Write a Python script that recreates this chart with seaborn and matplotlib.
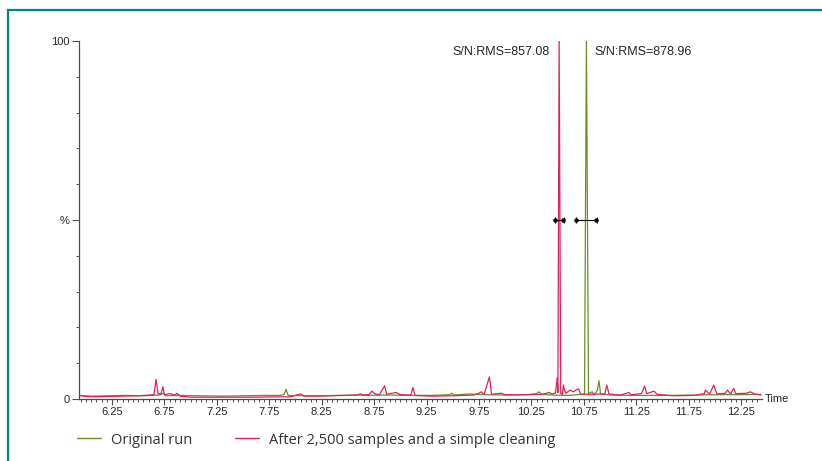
"""
Chromatogram overlay: original run vs. after 2,500 samples and a simple cleaning.
"""
import numpy as np
import pandas as pd
import matplotlib
matplotlib.use("Agg")
import matplotlib.pyplot as plt
from matplotlib.lines import Line2D
import seaborn as sns

# Original run (retention time in minutes, relative intensity in %)
orig_time = [5.94, 6.05, 6.2, 6.4, 6.55, 6.7, 6.74, 6.76, 6.9, 7.1, 7.3, 7.5,
             7.7, 7.85, 7.89, 7.91, 7.93, 8.1, 8.3, 8.5, 8.6, 8.62, 8.64, 8.9,
             9.1, 9.3, 9.47, 9.49, 9.51, 9.65, 9.8, 10.0, 10.2, 10.3, 10.32,
             10.35, 10.45, 10.6, 10.7, 10.757, 10.775, 10.795, 10.83, 10.85,
             10.88, 10.895, 10.91, 11.0, 11.2, 11.5, 11.8, 12.0, 12.2, 12.44]
orig_pct = [1.0, 0.8, 0.9, 1.0, 0.9, 1.1, 1.6, 0.9, 1.0, 0.9, 0.8, 0.9,
            1.0, 1.0, 1.2, 2.7, 1.0, 0.9, 0.9, 1.0, 1.2, 1.5, 1.0, 1.1,
            1.0, 1.0, 1.2, 1.6, 1.1, 1.4, 1.2, 1.1, 1.2, 1.5, 2.0,
            1.3, 1.1, 1.0, 1.2, 1.3, 100.0, 1.5, 2.0, 1.2,
            2.5, 5.1, 1.5, 1.1, 1.0, 1.0, 1.1, 1.2, 1.2, 1.3]

# After 2,500 samples and a simple cleaning
clean_time = [5.94, 6.0, 6.1, 6.2, 6.35, 6.5, 6.6, 6.65, 6.67, 6.69, 6.72, 6.735,
              6.75, 6.8, 6.85, 6.87, 6.9, 7.0, 7.2, 7.4, 7.6, 7.8, 7.95, 8.0,
              8.05, 8.08, 8.2, 8.4, 8.6, 8.7, 8.73, 8.76, 8.8, 8.85, 8.87, 8.92,
              8.96, 9.0, 9.1, 9.12, 9.14, 9.3, 9.5, 9.7, 9.75, 9.77, 9.8, 9.85,
              9.87, 9.96, 10.0, 10.2, 10.35, 10.42, 10.45, 10.48, 10.497, 10.503,
              10.515, 10.53, 10.545, 10.557, 10.565, 10.58, 10.62, 10.65, 10.68,
              10.7, 10.72, 10.8, 10.9, 10.95, 10.97, 10.99, 11.1, 11.18, 11.2,
              11.3, 11.33, 11.35, 11.42, 11.45, 11.6, 11.8, 11.9, 11.91, 11.95,
              11.99, 12.02, 12.1, 12.12, 12.15, 12.18, 12.2, 12.3, 12.34, 12.38,
              12.44]
clean_pct = [1.0, 0.7, 0.6, 0.7, 0.8, 0.9, 1.1, 1.2, 5.5, 1.4, 1.6, 3.4,
             1.2, 1.5, 1.1, 1.6, 0.8, 0.5, 0.5, 0.5, 0.5, 0.6, 0.6, 1.0,
             1.4, 0.8, 0.8, 1.0, 1.1, 1.2, 2.2, 1.4, 1.2, 3.7, 1.3, 1.6,
             1.8, 1.2, 1.1, 3.2, 1.0, 0.8, 0.9, 1.1, 1.6, 2.0, 1.3, 6.2,
             1.3, 1.6, 1.2, 1.2, 1.3, 1.8, 1.4, 1.7, 6.0, 1.8,
             100.0, 1.6, 1.2, 3.9, 2.5, 1.6, 2.5, 2.0, 2.6,
             2.8, 1.4, 1.3, 1.4, 1.3, 3.9, 1.4, 1.1, 1.8, 1.2,
             1.5, 3.6, 1.5, 2.2, 1.3, 0.9, 1.0, 1.5, 2.5, 1.4,
             3.9, 1.4, 1.6, 2.5, 1.4, 3.0, 1.5, 1.6, 2.0, 1.4,
             1.1]

series_names = ["Original run", "After 2,500 samples and a simple cleaning"]
series_colors = ["#6b8e2a", "#e0215a"]

# Peak annotations
sn_labels = ["S/N:RMS=857.08", "S/N:RMS=878.96"]
peak_center = [10.515, 10.7725]
peak_halfwidth = [0.043, 0.100]

x_labels = [6.25, 6.75, 7.25, 7.75, 8.25, 8.75, 9.25, 9.75,
            10.25, 10.75, 11.25, 11.75, 12.25]

df = pd.concat([
    pd.DataFrame({"Time": orig_time, "pct": orig_pct, "run": series_names[0]}),
    pd.DataFrame({"Time": clean_time, "pct": clean_pct, "run": series_names[1]}),
])

sns.set_style("white")
plt.rcParams["font.family"] = ["Liberation Sans", "DejaVu Sans"]

fig = plt.figure(figsize=(8.22, 4.61), dpi=100)
ax = fig.add_axes([79 / 822, 1 - 399 / 461, (762 - 79) / 822, (399 - 41) / 461])

sns.lineplot(data=df, x="Time", y="pct", hue="run", palette=series_colors,
             hue_order=series_names, estimator=None, sort=False,
             linewidth=0.9, legend=False, ax=ax)

ax.set_xlim(5.935, 12.45)
ax.set_ylim(0, 100)

# peak width markers at half height
for c, hw in zip(peak_center, peak_halfwidth):
    ax.errorbar(c, 50, xerr=hw, fmt="none", ecolor="black", elinewidth=0.8,
                capsize=2.5, capthick=0.8)
    ax.plot([c - hw + 0.008, c + hw - 0.008], [50, 50], ls="none",
            marker="o", ms=2.2, color="black")

# S/N labels beside the peaks
ax.text(10.424, 96.9, sn_labels[0], ha="right", va="center", fontsize=9)
ax.text(10.854, 96.9, sn_labels[1], ha="left", va="center", fontsize=9)

# axes styling
for side in ["top", "right"]:
    ax.spines[side].set_visible(False)
for side in ["left", "bottom"]:
    ax.spines[side].set_color("#4d4d4d")
    ax.spines[side].set_linewidth(0.9)

ax.set_yticks([0, 50, 100])
ax.set_yticklabels(["0", "%", "100"], fontsize=8)
ax.set_yticks(np.arange(0, 101, 10), minor=True)
ax.set_xticks(x_labels)
ax.set_xticklabels([f"{v:.2f}" for v in x_labels], fontsize=8)
ax.set_xticks(np.arange(5.95, 12.45, 0.05), minor=True)
ax.tick_params(axis="both", which="both", bottom=True, left=True,
               direction="out", color="#4d4d4d")
ax.tick_params(axis="both", which="major", length=4, width=0.8, pad=2)
ax.tick_params(axis="both", which="minor", length=2.5, width=0.7)
ax.tick_params(axis="y", which="major", length=5)
ax.set_xlabel("")
ax.set_ylabel("")
ax.text(1.004, 0, "Time", transform=ax.transAxes, ha="left", va="center",
        fontsize=8)

# legend below the plot
handles = [Line2D([], [], color=col, lw=1.0) for col in series_colors]
fig.legend(handles, series_names, loc="center left",
           bbox_to_anchor=(77 / 822, 1 - 440 / 461), ncol=2, frameon=False,
           borderpad=0, borderaxespad=0,
           handlelength=1.65, handletextpad=0.68, columnspacing=2.95,
           labelcolor="#333333",
           prop={"family": "Open Sans", "size": 10.5})

# teal frame on top and left
fig.add_artist(Line2D([8 / 822, 1], [1 - 10 / 461, 1 - 10 / 461],
                      transform=fig.transFigure, color="#00897b", lw=1.6))
fig.add_artist(Line2D([8 / 822, 8 / 822], [0, 1 - 10 / 461],
                      transform=fig.transFigure, color="#00897b", lw=1.6))

fig.savefig("out.png", dpi=100)
